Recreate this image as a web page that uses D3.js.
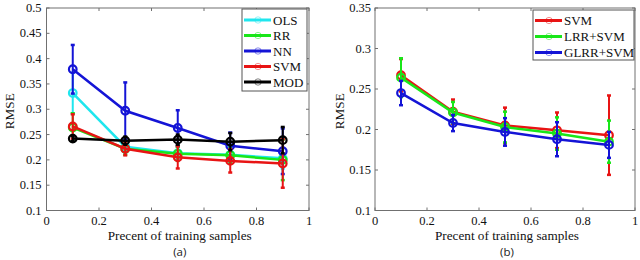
<!DOCTYPE html>
<html lang="en">
<head>
<meta charset="UTF-8">
<script src="https://d3js.org/d3.v7.min.js"></script>
<style>
  body { margin: 0; background: #fff; }
  .tick-label { font-family: "Liberation Serif", "Times New Roman", serif; font-size: 12.5px; fill: #111; }
  .axis-title { font-family: "Liberation Serif", "Times New Roman", serif; font-size: 13.2px; fill: #111; }
  .legend-text { font-family: "Liberation Serif", "Times New Roman", serif; font-size: 13px; fill: #111; }
  .panel-tag { font-family: "Open Sans", "Noto Sans", sans-serif; font-size: 11.5px; fill: #222; }
</style>
</head>
<body>
<svg width="640" height="260"></svg>
<script>
// x positions (fraction of training samples)
var samples = [0.1, 0.3, 0.5, 0.7, 0.9];
var xTicks = [0, 0.2, 0.4, 0.6, 0.8, 1];
var xTickLabels = ["0", "0.2", "0.4", "0.6", "0.8", "1"];

// panel (a)
var yTicksA = [0.1, 0.15, 0.2, 0.25, 0.3, 0.35, 0.4, 0.45, 0.5];
var yTickLabelsA = ["0.1", "0.15", "0.2", "0.25", "0.3", "0.35", "0.4", "0.45", "0.5"];
var namesA = ["OLS", "RR", "NN", "SVM", "MOD"];
var olsMean = [0.332, 0.226, 0.213, 0.210, 0.203];
var olsErr  = [0.040, 0.012, 0.012, 0.015, 0.020];
var rrMean  = [0.264, 0.222, 0.212, 0.209, 0.200];
var rrErr   = [0.028, 0.012, 0.014, 0.016, 0.040];
var nnMean  = [0.379, 0.297, 0.263, 0.228, 0.217];
var nnErr   = [0.048, 0.056, 0.035, 0.026, 0.045];
var svmMeanA = [0.266, 0.222, 0.205, 0.198, 0.193];
var svmErrA  = [0.024, 0.013, 0.022, 0.023, 0.048];
var modMean = [0.242, 0.238, 0.240, 0.236, 0.239];
var modErr  = [0.005, 0.008, 0.010, 0.017, 0.026];

// panel (b)
var yTicksB = [0.1, 0.15, 0.2, 0.25, 0.3, 0.35];
var yTickLabelsB = ["0.1", "0.15", "0.2", "0.25", "0.3", "0.35"];
var namesB = ["SVM", "LRR+SVM", "GLRR+SVM"];
var svmMeanB = [0.267, 0.222, 0.205, 0.199, 0.193];
var svmErrB  = [0.020, 0.015, 0.022, 0.022, 0.049];
var lrrMean  = [0.264, 0.221, 0.203, 0.195, 0.185];
var lrrErr   = [0.024, 0.013, 0.019, 0.020, 0.026];
var glrrMean = [0.245, 0.208, 0.197, 0.188, 0.181];
var glrrErr  = [0.015, 0.010, 0.017, 0.021, 0.016];

var colors = { cyan: "#1fe6ee", green: "#19e619", blue: "#1414d6", red: "#e81414", black: "#000" };

var svg = d3.select("svg");

function drawPanel(p) {
    var x = d3.scaleLinear().domain([0, 1]).range([p.left, p.right]);
    var y = d3.scaleLinear().domain(p.yDomain).range([p.bottom, p.top]);
    var g = svg.append("g");
    var axisColor = "#707070";

    // box
    g.append("rect")
        .attr("x", p.left).attr("y", p.top)
        .attr("width", p.right - p.left).attr("height", p.bottom - p.top)
        .attr("fill", "none").attr("stroke", axisColor).attr("stroke-width", 1);

    // inward ticks on all sides
    var tl = 3;
    xTicks.forEach(function(v, i) {
        g.append("line").attr("x1", x(v)).attr("x2", x(v)).attr("y1", p.bottom).attr("y2", p.bottom - tl).attr("stroke", axisColor);
        g.append("line").attr("x1", x(v)).attr("x2", x(v)).attr("y1", p.top).attr("y2", p.top + tl).attr("stroke", axisColor);
        g.append("text").attr("class", "tick-label")
            .attr("x", x(v)).attr("y", p.bottom + 14)
            .attr("text-anchor", "middle").text(xTickLabels[i]);
    });
    p.yTicks.forEach(function(v, i) {
        g.append("line").attr("x1", p.left).attr("x2", p.left + tl).attr("y1", y(v)).attr("y2", y(v)).attr("stroke", axisColor);
        g.append("line").attr("x1", p.right).attr("x2", p.right - tl).attr("y1", y(v)).attr("y2", y(v)).attr("stroke", axisColor);
        g.append("text").attr("class", "tick-label")
            .attr("x", p.left - p.labelGap).attr("y", y(v) + 4)
            .attr("text-anchor", "end").text(p.yTickLabels[i]);
    });

    // titles
    g.append("text").attr("class", "axis-title")
        .attr("x", (p.left + p.right) / 2 + 2).attr("y", p.bottom + 29)
        .attr("text-anchor", "middle").text("Precent of training samples");
    g.append("text").attr("class", "axis-title")
        .attr("transform", "translate(" + p.yTitleX + "," + ((p.top + p.bottom) / 2 + 2) + ") rotate(-90)")
        .attr("text-anchor", "middle").text("RMSE");
    g.append("text").attr("class", "panel-tag")
        .attr("x", (p.left + p.right) / 2 + 2).attr("y", p.bottom + 45)
        .attr("text-anchor", "middle").text(p.tag);

    // series
    var line = d3.line().x(function(d) { return x(d.x); }).y(function(d) { return y(d.m); });
    p.series.forEach(function(s) {
        var pts = samples.map(function(v, i) { return { x: v, m: s.mean[i], e: s.err[i] }; });
        var sg = g.append("g");
        sg.selectAll(".eb").data(pts).enter().append("line")
            .attr("x1", function(d) { return x(d.x); }).attr("x2", function(d) { return x(d.x); })
            .attr("y1", function(d) { return y(d.m - d.e); }).attr("y2", function(d) { return y(d.m + d.e); })
            .attr("stroke", s.color).attr("stroke-width", 2);
        [-1, 1].forEach(function(sign) {
            sg.selectAll(".cap" + sign).data(pts).enter().append("line")
                .attr("x1", function(d) { return x(d.x) - 2; }).attr("x2", function(d) { return x(d.x) + 2; })
                .attr("y1", function(d) { return y(d.m + sign * d.e); }).attr("y2", function(d) { return y(d.m + sign * d.e); })
                .attr("stroke", s.color).attr("stroke-width", 2.5);
        });
        sg.append("path").datum(pts).attr("d", line)
            .attr("fill", "none").attr("stroke", s.color).attr("stroke-width", 2.5);
        sg.selectAll("circle").data(pts).enter().append("circle")
            .attr("cx", function(d) { return x(d.x); }).attr("cy", function(d) { return y(d.m); })
            .attr("r", 3.8).attr("fill", "none").attr("stroke", s.color).attr("stroke-width", 2.2);
    });

    // legend
    var L = p.legend;
    var lg = g.append("g");
    lg.append("rect").attr("x", L.x).attr("y", L.y).attr("width", L.w).attr("height", L.h)
        .attr("fill", "#fff").attr("stroke", "#555").attr("stroke-width", 1);
    p.series.forEach(function(s, i) {
        var yy = L.y + L.first + i * L.step;
        lg.append("line").attr("x1", L.x + 2).attr("x2", L.x + 29).attr("y1", yy).attr("y2", yy)
            .attr("stroke", s.color).attr("stroke-width", 3);
        lg.append("circle").attr("cx", L.x + 16).attr("cy", yy).attr("r", 3.2)
            .attr("fill", "none").attr("stroke", s.color).attr("stroke-opacity", 0.6).attr("stroke-width", 0.8);
        lg.append("text").attr("class", "legend-text")
            .attr("x", L.x + 31).attr("y", yy + 4.5).text(s.name);
    });
}

drawPanel({
    left: 46.5, right: 309, top: 8, bottom: 210.5,
    yDomain: [0.1, 0.5], yTicks: yTicksA, yTickLabels: yTickLabelsA,
    labelGap: 5, yTitleX: 14, tag: "(a)",
    series: [
        { name: namesA[0], mean: olsMean, err: olsErr, color: colors.cyan },
        { name: namesA[1], mean: rrMean, err: rrErr, color: colors.green },
        { name: namesA[2], mean: nnMean, err: nnErr, color: colors.blue },
        { name: namesA[3], mean: svmMeanA, err: svmErrA, color: colors.red },
        { name: namesA[4], mean: modMean, err: modErr, color: colors.black }
    ],
    legend: { x: 242, y: 9, w: 65, h: 82, first: 11, step: 15.5 }
});

drawPanel({
    left: 375, right: 635, top: 8, bottom: 210.5,
    yDomain: [0.1, 0.35], yTicks: yTicksB, yTickLabels: yTickLabelsB,
    labelGap: 4, yTitleX: 344, tag: "(b)",
    series: [
        { name: namesB[0], mean: svmMeanB, err: svmErrB, color: colors.red },
        { name: namesB[1], mean: lrrMean, err: lrrErr, color: colors.green },
        { name: namesB[2], mean: glrrMean, err: glrrErr, color: colors.blue }
    ],
    legend: { x: 533, y: 10, w: 101, h: 50, first: 10.5, step: 16 }
});
</script>
</body>
</html>
